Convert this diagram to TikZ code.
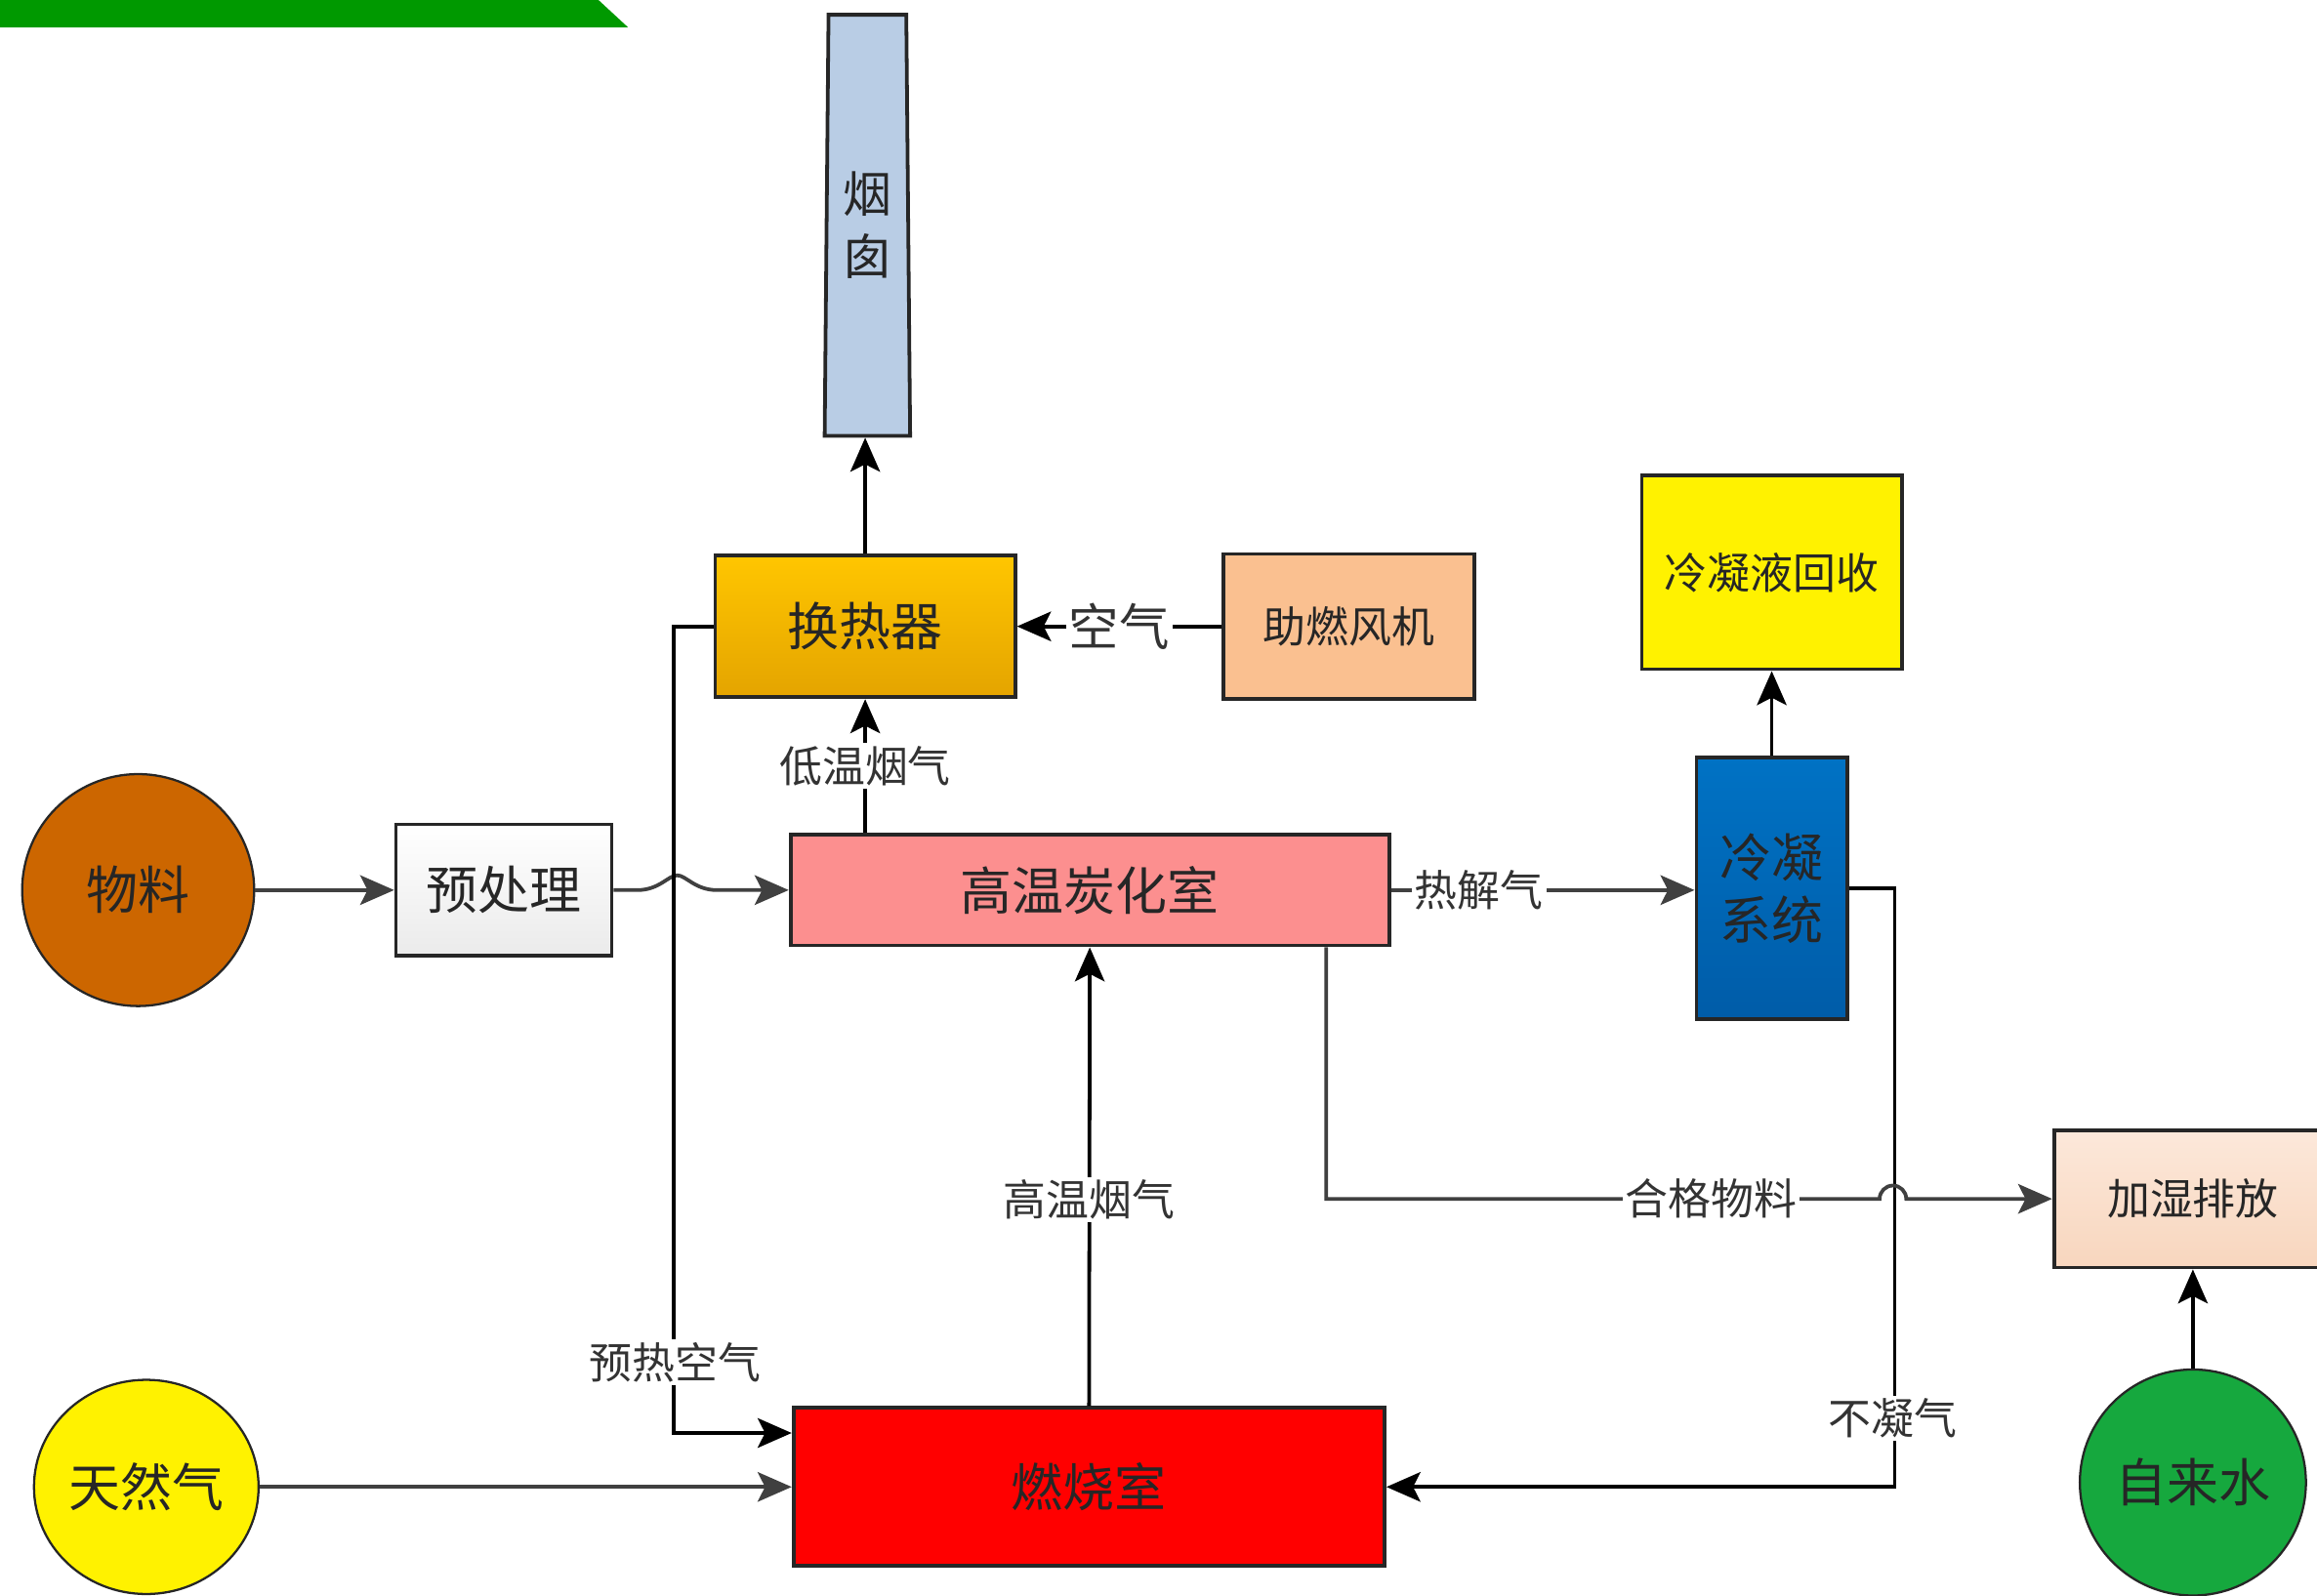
\documentclass[tikz,border=0pt]{standalone}
\usepackage{fontspec}
\setmainfont{Noto Sans CJK SC}
\usepackage{xcolor}
\usetikzlibrary{arrows.meta,shapes.geometric,calc}

\definecolor{bannergreen}{RGB}{0,153,0}
\definecolor{chimblue}{RGB}{185,205,229}
\definecolor{hxtop}{RGB}{255,198,0}
\definecolor{hxbot}{RGB}{228,164,0}
\definecolor{fanpeach}{RGB}{250,192,144}
\definecolor{carbpink}{RGB}{252,143,143}
\definecolor{matbrown}{RGB}{204,102,0}
\definecolor{condtop}{RGB}{0,114,196}
\definecolor{condbot}{RGB}{0,92,168}
\definecolor{wettop}{RGB}{252,232,218}
\definecolor{wetbot}{RGB}{248,214,190}
\definecolor{watergreen}{RGB}{22,168,62}

\begin{document}
\begin{tikzpicture}[x=1pt,y=1pt,yscale=-1,
  box/.style={draw=black!85,line width=2.5pt,inner sep=0pt,text=black!85,
    font=\fontsize{35}{42}\selectfont},
  smalltext/.style={font=\fontsize{29}{35}\selectfont},
  disc/.style={box,ellipse,line width=1.5pt},
  lbl/.style={fill=white,inner sep=2pt,text=black!80,font=\fontsize{29}{35}\selectfont},
  flow/.style={draw=black,line width=2.5pt,-{Stealth[length=23pt,width=20pt,inset=5pt]}},
  feed/.style={flow,draw=black!75}]
\useasboundingbox (0,0) rectangle (1568,1080);

%Shape: banner
\fill[bannergreen] (0,0) -- (405,0) -- (425,18.5) -- (0,18.5) -- cycle;

%Shape: Boxes
\node[box,shape=trapezium,trapezium stretches=true,trapezium left angle=88.7,
  trapezium right angle=88.7,minimum width=58,minimum height=285,fill=chimblue,
  align=center,font=\fontsize{33}{42}\selectfont] (chim) at (587,152.5) {烟\\囱};
\node[box,minimum width=203,minimum height=96,top color=hxtop,bottom color=hxbot] (hx) at (585.5,424) {换热器};
\node[box,smalltext,minimum width=170,minimum height=98,fill=fanpeach] (fan) at (913,424) {助燃风机};
\node[box,minimum width=405,minimum height=75,fill=carbpink] (carb) at (737.5,602.5) {高温炭化室};
\node[box,minimum width=146,minimum height=89,top color=white,bottom color=black!8] (pre) at (341,602.5) {预处理};
\node[box,minimum width=400,minimum height=107,fill=red] (burn) at (737,1006.5) {燃烧室};
\node[box,align=center,minimum width=102,minimum height=177,top color=condtop,bottom color=condbot] (cond) at (1199,601.5) {冷凝\\系统};
\node[box,smalltext,minimum width=176,minimum height=131,fill=yellow] (rec) at (1199,387.5) {冷凝液回收};
\node[box,smalltext,minimum width=188,minimum height=93,top color=wettop,bottom color=wetbot] (wet) at (1484,811.5) {加湿排放};

%Shape: Ellipses
\node[disc,minimum width=157,minimum height=157,fill=matbrown] (mat) at (93.5,602.5) {物料};
\node[disc,minimum width=152,minimum height=145,fill=yellow] (gas) at (99,1006.5) {天然气};
\node[disc,minimum width=153,minimum height=153,fill=watergreen] (water) at (1484,1003.5) {自来水};

%Straight Lines
\draw[flow] (hx.north) -- (hx.north |- chim.south);
\draw[flow] (fan.west) -- node[lbl,font=\fontsize{34}{40}\selectfont] {空气} (hx.east);
\draw[flow] (hx.south |- carb.north) -- node[lbl] {低温烟气} (hx.south);
\draw[feed] (mat.east) -- (mat.east -| pre.west);
\draw[feed] (pre.east) -- ++(16,0) .. controls +(15,0) and +(-6,0) .. ++(27,-10)
  .. controls +(6,0) and +(-15,0) .. ++(27,10) -- (carb.west);
\draw[flow] (hx.west) -| ($(burn.west)+(-80,-36.5)$) -- ($(burn.west)+(0,-36.5)$);
\draw[feed] (gas.east) -- (gas.east -| burn.west);
\draw[flow] (burn.north) -- node[lbl,pos=0.45] {高温烟气} (carb.south);
\draw[feed] (carb.east) -- node[lbl,pos=0.29] {热解气} (carb.east -| cond.west);
\draw[flow] (cond.north) -- (rec.south);
\draw[flow] (cond.east) -- ++(31,0) |- (burn.east);
\draw[feed] ($(carb.south)+(160,0)$) |- (1272,811.5) arc[start angle=180,end angle=360,radius=9] -- (wet.west);
\draw[flow] (water.north) -- (wet.south);

% Text Node
\node[lbl] (preair) at (457,922) {预热空气};
% Text Node
\node[lbl] (goodmat) at (1158,811.5) {合格物料};
% Text Node
\node[lbl] (noncond) at (1281,960) {不凝气};
\end{tikzpicture}
\end{document}
